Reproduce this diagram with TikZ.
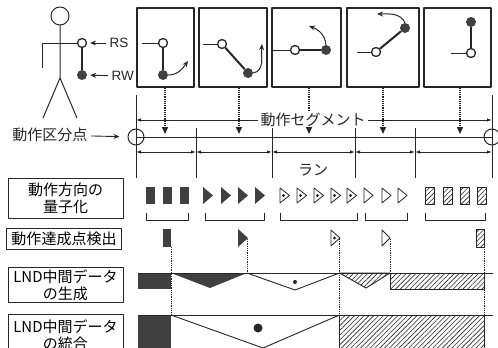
\documentclass[tikz,border=0pt]{standalone}
\usepackage{fontspec}
\setmainfont{Liberation Sans}
\newfontfamily\jfont{Noto Sans CJK JP}
\usetikzlibrary{arrows.meta,patterns.meta,positioning}
\colorlet{ink}{black!85}
\colorlet{dark}{black!75}
\tikzset{
  panel/.style={draw=ink, line width=1.1pt, minimum width=#1, minimum height=79pt, inner sep=0pt},
  joint/.style={draw=ink, line width=1.3pt, circle, fill=white, inner sep=0pt, minimum size=9pt},
  knob/.style={fill=dark, circle, inner sep=0pt, minimum size=10pt},
  armline/.style={draw=ink, line width=2pt},
  stub/.style={draw=ink, line width=0.9pt},
  swing/.style={draw=ink, line width=1pt, -{Stealth[length=6pt,width=5pt]}},
  pointer/.style={draw=ink, line width=0.9pt, -{Stealth[length=6pt,width=5pt]}},
  dropline/.style={draw=ink, line width=1.5pt, dash pattern=on 1.2pt off 1pt},
  droptip/.style={-{Triangle[length=7pt,width=6pt]}},
  runarrow/.style={draw=ink, line width=0.9pt, {Latex[length=5pt,width=3.5pt]}-{Latex[length=5pt,width=3.5pt]}},
  cutpoint/.style={draw=ink, line width=1pt, circle, inner sep=0pt, minimum size=16pt},
  procbox/.style={draw=ink, line width=1pt, minimum width=115pt, align=center, inner sep=2pt,
    font=\jfont\fontsize{15}{17}\selectfont},
  jtext/.style={font=\jfont\fontsize{15}{17}\selectfont, text=ink},
  detline/.style={draw=ink, line width=0.8pt, densely dotted},
  hatch/.style={draw=ink, line width=0.9pt, pattern={Lines[angle=45,distance=3.4pt,line width=0.6pt]}, pattern color=ink}
}

\begin{document}
\begin{tikzpicture}[x=1pt, y=-1pt, line join=round]
\useasboundingbox (0,0) rectangle (498,348);

% stick figure with the right arm
\draw[ink, line width=1pt] (60,16) circle (9);
\draw[ink, line width=1pt] (60,25) -- (60,78) (43,118) -- (60,78) -- (77,118);
\node[joint] (rs) at (82,43) {};
\node[knob] (rw) at (82,75) {};
\draw[ink, line width=1pt] (42,68) -- (42,43) -- (rs);
\draw[armline] (rs) -- (rw);
\node[anchor=west, font=\fontsize{13.5}{15}\selectfont, text=ink] (rslab) at (106,43) {RS};
\node[anchor=west, font=\fontsize{13.5}{15}\selectfont, text=ink] (rwlab) at (108,76) {RW};
\draw[pointer, shorten >=3pt] (rslab) -- (rs);
\draw[pointer, shorten >=3pt] (rwlab) -- (rw);

% arm postures
\node[panel=57pt] (p1) at (165.5,47.5) {};
\node[panel=68pt] (p2) at (233,47.5) {};
\node[panel=69pt] (p3) at (306.5,47.5) {};
\node[panel=72pt] (p4) at (383,47.5) {};
\node[panel=67pt] (p5) at (457.5,47.5) {};

\node[joint] (s1) at (163,43) {};
\node[knob] (w1) at (163,75) {};
\coordinate (e1) at (142,43);
\coordinate (a1) at (188,61);
\draw[stub] (e1) -- (s1);
\draw[armline] (s1) -- (w1);
\draw[swing] (w1.east) to[out=0, in=235] (a1);

\node[joint] (s2) at (222,44) {};
\node[knob] (w2) at (248,73) {};
\coordinate (e2) at (203,44);
\coordinate (a2) at (262,44);
\draw[stub] (e2) -- (s2);
\draw[armline] (s2) -- (w2);
\draw[swing] (w2.east) to[out=10, in=-95] (a2);

\node[joint] (s3) at (295,50) {};
\node[knob] (w3) at (326,50) {};
\coordinate (e3) at (273,50);
\coordinate (a3) at (309,26);
\draw[stub] (e3) -- (s3);
\draw[armline] (s3) -- (w3);
\draw[swing] (w3.north) to[out=95, in=-20] (a3);

\node[joint] (s4) at (376,52) {};
\node[knob] (w4) at (405,28) {};
\coordinate (e4) at (357,52);
\coordinate (a4) at (377,14);
\draw[stub] (e4) -- (s4);
\draw[armline] (s4) -- (w4);
\draw[swing] (w4.north) to[out=115, in=0] (a4);

\node[joint] (s5) at (471,53) {};
\node[knob] (w5) at (471,22) {};
\coordinate (e5) at (451,53);
\draw[stub] (e5) -- (s5);
\draw[armline] (s5) -- (w5);

% segment boundaries and runs
\node[cutpoint] (cl) at (136,137) {};
\node[cutpoint] (cr) at (492,137) {};
\draw[ink, line width=0.9pt] (136,95) -- (136,178) (492,95) -- (492,178);
\draw[ink, line width=0.9pt] (cl.center) -- (cr.center);
\foreach \x in {196,272,355,415}
  \draw[ink, line width=0.9pt] (\x,128) -- (\x,178);

\node[jtext, inner sep=2pt] (seg) at (313,120) {動作セグメント};
\coordinate (segl) at (136,120);
\coordinate (segr) at (492,120);
\draw[runarrow, {Latex[length=5pt,width=3.5pt]}-] (segl) -- (seg);
\draw[runarrow, -{Latex[length=5pt,width=3.5pt]}] (seg) -- (segr);

\coordinate (h1) at (165,134);
\coordinate (h2) at (239,134);
\coordinate (h3) at (309,134);
\coordinate (h4) at (383,134);
\coordinate (h5) at (460,134);
\foreach \i in {1,2,4,5}
  \draw[dropline, droptip] (p\i.south -| h\i) -- (h\i);
\draw[dropline] (p3.south -| h3) -- (seg.north -| h3);
\draw[dropline, droptip] (seg.south -| h3) -- (h3);

\coordinate (d0) at (136,152);
\coordinate (d1) at (196,152);
\coordinate (d2) at (272,152);
\coordinate (d3) at (355,152);
\coordinate (d4) at (415,152);
\coordinate (d5) at (492,152);
\foreach \a/\b in {d0/d1,d1/d2,d2/d3,d3/d4,d4/d5}
  \draw[runarrow] (\a) -- (\b);
\node[jtext] (run) at (313,170) {ラン};

\node[jtext, anchor=east] (kubun) at (91,135) {動作区分点};
\draw[pointer, shorten >=8pt] (kubun) -- (cl);

% processing steps
\node[procbox, minimum height=40pt] (q1) at (65.5,198) {動作方向の\\量子化};
\node[procbox, minimum height=21pt] (q2) at (64,238.5) {動作達成点検出};
\node[procbox, minimum height=35pt, anchor=north] (q3) at (65.5,267) {LND中間データ\\の生成};
\node[procbox, minimum height=42pt, anchor=north] (q4) at (65.5,314) {LND中間データ\\の統合};

% quantized directions
\foreach \x in {146,163,180}
  \fill[dark] (\x,187) rectangle ++(9,17);
\foreach \x in {203,221,238,255}
  \fill[dark] (\x,187) -- ++(10,8.5) -- (\x,204) -- cycle;
\foreach \x in {280,297,314,331,347} {
  \draw[ink, line width=0.8pt] (\x,188) -- ++(9.5,7.5) -- (\x,203) -- cycle;
  \fill[ink] (\x+3.5,195.5) circle (1.6);
}
\foreach \x in {364,382,398}
  \draw[ink, line width=0.8pt] (\x,188) -- ++(9,7.5) -- (\x,203) -- cycle;
\foreach \x in {425,443,460,477}
  \draw[hatch, line width=0.7pt] (\x,187) rectangle ++(9,17);
\foreach \a/\b in {146/188,205/264,280/357,365/407,425/485}
  \draw[ink, line width=0.9pt] (\a,213) -- (\a,220) -- (\b,220) -- (\b,213);

% reached points
\fill[dark] (163,229) rectangle (171,247);
\fill[dark] (238,229) -- (248,238) -- (238,247) -- cycle;
\draw[ink, line width=0.8pt] (331,230) -- (340,238) -- (331,246) -- cycle;
\fill[ink] (334.5,238) circle (1.6);
\draw[ink, line width=0.8pt] (382,230) -- (390,238) -- (382,246) -- cycle;
\draw[hatch, line width=0.7pt] (476,229) rectangle (484,247);

\coordinate (r1) at (171,247);
\coordinate (r2) at (247,239);
\coordinate (r3) at (339.5,239);
\coordinate (r4) at (390,239);
\coordinate (r5) at (484,247);
\coordinate (g2) at (247,273);
\coordinate (g4) at (390,273);
\coordinate (m1) at (171,315);
\coordinate (m3) at (339.5,315);
\coordinate (m5) at (484,315);
\draw[detline] (r1) -- (m1);
\draw[detline] (r2) -- (g2);
\draw[detline] (r3) -- (m3);
\draw[detline] (r4) -- (g4);
\draw[detline] (r5) -- (m5);

% LND data, generated
\fill[dark] (138,273) rectangle (171,289);
\fill[dark] (171,273) -- (210,288) -- (247,273) -- cycle;
\draw[ink, line width=0.9pt] (247,273) -- (295,290) -- (339.5,273);
\fill[ink] (295,282) circle (2);
\draw[hatch] (339.5,273) -- (366,288) -- (390,273) -- cycle;
\draw[hatch] (390,273) rectangle (484,289);
\draw[ink, line width=1pt] (138,273) -- (493,273);

% LND data, merged
\fill[dark] (138,315) rectangle (171,352);
\draw[ink, line width=0.9pt] (171,315) -- (263,348) -- (339.5,315);
\fill[ink] (258,328) circle (4.5);
\draw[hatch] (339.5,315) rectangle (484,352);
\draw[ink, line width=1pt] (138,315) -- (493,315);
\end{tikzpicture}
\end{document}
